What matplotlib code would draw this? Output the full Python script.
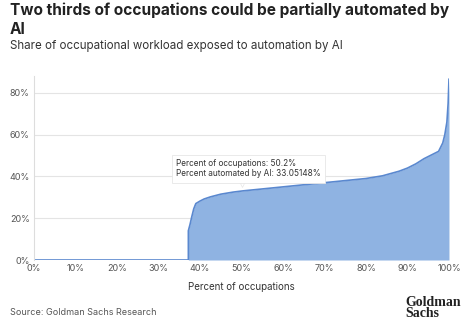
import matplotlib
matplotlib.use("Agg")
import matplotlib.pyplot as plt

plt.rcParams['font.family'] = ['Inter', 'DejaVu Sans']

# share of occupations (%) vs share of workload automatable (%)
occ_pct = [0, 37.2, 37.2, 37.6, 38.0, 38.5, 39.0, 40.0, 41.0, 42.5, 45.0, 48.0, 50.2,
           55.0, 60.0, 65.0, 70.0, 75.0, 80.0, 84.0, 88.0, 90.0, 92.0, 94.0, 96.0,
           97.5, 98.5, 99.0, 99.5, 99.8, 100.0]
auto_pct = [0, 0, 14.0, 17.0, 20.5, 24.5, 27.0, 28.2, 29.2, 30.2, 31.5, 32.5, 33.05,
            34.0, 35.0, 36.0, 37.0, 38.0, 39.0, 40.3, 42.5, 44.0, 46.0, 48.5, 50.5,
            52.0, 56.0, 60.0, 66.0, 75.0, 86.5]

x_ticks = [0, 10, 20, 30, 40, 50, 60, 70, 80, 90, 100]
y_ticks = [0, 20, 40, 60, 80]

fig = plt.figure(figsize=(4.74, 3.31), dpi=100)
ax = fig.add_axes([0.0717, 0.2145, 0.8755, 0.5555])

ax.fill_between(occ_pct, auto_pct, 0, color='#8fb3e2', lw=0)
ax.plot(occ_pct, auto_pct, color='#5a88cf', lw=1.2)

ax.set_xlim(0, 100)
ax.set_ylim(0, 88)
ax.set_xticks(x_ticks)
ax.set_xticklabels([f'{t}%' for t in x_ticks])
ax.set_yticks(y_ticks)
ax.set_yticklabels([f'{t}%' for t in y_ticks])
ax.tick_params(length=0, labelsize=6.5, colors='#555555', pad=3)
ax.grid(axis='y', color='#e4e4e4', lw=0.8)
ax.set_axisbelow(True)
for s in ['top', 'right', 'bottom']:
    ax.spines[s].set_visible(False)
ax.spines['left'].set_color('#dddddd')
ax.set_xlabel('Percent of occupations', fontsize=7, color='#333333', labelpad=6)

# tooltip with a small pointer down to the hovered point
ax.plot([50.2], [37.0], marker='v', ms=6, color='white', mec='#e6e6e6', mew=0.5, zorder=4)
ax.text(34.2, 43.6, 'Percent of occupations: 50.2%\nPercent automated by AI: 33.05148%',
        fontsize=5.9, color='#333333', va='center', ha='left', linespacing=1.15, zorder=5,
        bbox=dict(boxstyle='square,pad=0.5', fc='white', ec='#e6e6e6', lw=0.6))

fig.text(0.021, 0.991, 'Two thirds of occupations could be partially automated by\nAI',
         fontsize=11.1, fontweight='bold', color='#222222', va='top', linespacing=1.3)
fig.text(0.021, 0.861, 'Share of occupational workload exposed to automation by AI',
         fontsize=8.3, color='#333333', va='center')
fig.text(0.021, 0.057, 'Source: Goldman Sachs Research', fontsize=6.5, color='#555555',
         va='center')
fig.text(0.855, 0.033, 'Goldman\nSachs', fontsize=10, fontweight='bold', color='#222222',
         family='Liberation Serif', va='bottom', ha='left', linespacing=0.8)

fig.savefig('out.png', dpi=100, facecolor='white')
